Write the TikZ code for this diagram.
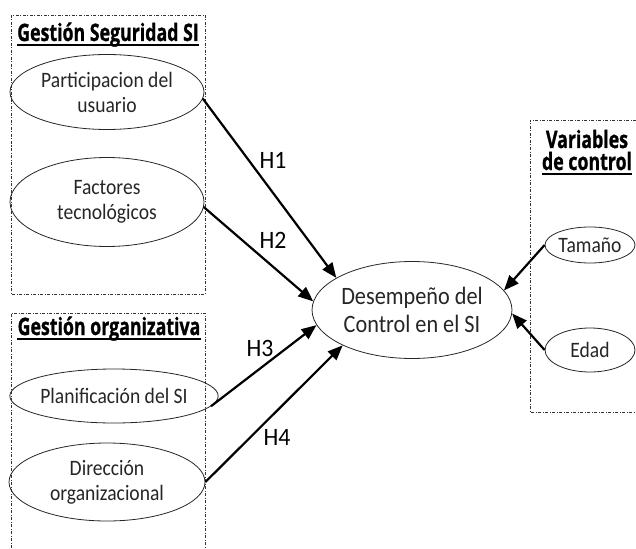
\documentclass[tikz,border=0pt]{standalone}
\usepackage{fontspec}
\setmainfont{Open Sans}[BoldFeatures={FakeBold=1.2}]
\newfontfamily\bodyfont{Carlito}[FakeStretch=0.89]
\newfontfamily\hfont{Carlito}[FakeStretch=0.95]
\usetikzlibrary{shapes.geometric,arrows.meta}
\tikzset{
  var/.style={draw=black!85, line width=0.8pt, ellipse, inner sep=0pt, align=center,
    font=\bodyfont\fontsize{22}{25}\selectfont, text=black!85},
  grp/.style={draw=black!80, line width=0.7pt, dash pattern=on 3pt off 1.5pt on 1pt off 1.5pt},
  hyp/.style={line width=2.2pt, -{Triangle[length=15pt,width=12pt]}},
  lbl/.style={font=\hfont\fontsize{25}{27}\selectfont, inner sep=0pt},
  ttl/.style={font=\fontsize{24}{24}\selectfont\bfseries, inner sep=0pt, align=center},
  ul/.style={line width=2pt}
}
\begin{document}
\begin{tikzpicture}[x=1pt,y=-1pt]
\useasboundingbox (0,0) rectangle (636,548);
% group boxes
\draw[grp] (11,15) rectangle (205,294);
\draw[grp] (11,548) -- (11,313) -- (205,313) -- (205,548);
\draw[grp] (636,120) -- (530,120) -- (530,412) -- (636,412);
% titles
\node[ttl, anchor=base] (t1) at (108,41) {\scalebox{0.74}[1]{Gestión Seguridad SI}};
\node[ttl, anchor=base] (t2) at (109,335) {\scalebox{0.74}[1]{Gestión organizativa}};
\node[ttl, anchor=base] (t3a) at (587,148) {\scalebox{0.74}[1]{Variables}};
\node[ttl, anchor=base] (t3b) at (587,170) {\scalebox{0.74}[1]{de control}};
\draw[ul] ([yshift=-4pt]t1.base west) -- ([yshift=-4pt]t1.base east);
\draw[ul] ([yshift=-4pt]t2.base west) -- ([yshift=-4pt]t2.base east);
\draw[ul] ([yshift=-4pt]t3b.base west) -- ([yshift=-4pt]t3b.base east);
% variables
\node[var, minimum width=194pt, minimum height=75pt] (p) at (107,92) {Participacion del\\usuario};
\node[var, minimum width=194pt, minimum height=89pt] (f) at (107,202) {Factores\\tecnológicos};
\node[var, minimum width=176pt, minimum height=54pt] (pl) at (114,396) {Planificación del SI};
\node[var, minimum width=196pt, minimum height=78pt] (di) at (107,482) {Dirección\\organizacional};
\node[var, minimum width=183pt, minimum height=97pt, font=\bodyfont\fontsize{25}{28}\selectfont] (d) at (412,310) {Desempeño del\\Control en el SI};
\node[var, minimum width=90pt, minimum height=36pt] (ta) at (590,245) {Tamaño};
\node[var, minimum width=90pt, minimum height=44pt] (ed) at (590,350) {Edad};
% hypotheses
\draw[hyp] (p.-4) -- (d.157);
\draw[hyp] (f.-3) -- (d.175);
\draw[hyp] (pl.-6) -- (d.189);
\draw[hyp] (di.0) -- (d.207);
\draw[hyp] (ta.west) -- (d.12);
\draw[hyp] (ed.west) -- (d.-2);
\node[lbl] (h1) at (273,160) {H1};
\node[lbl] (h2) at (273,240) {H2};
\node[lbl] (h3) at (260,348) {H3};
\node[lbl] (h4) at (277,437) {H4};
\end{tikzpicture}
\end{document}
